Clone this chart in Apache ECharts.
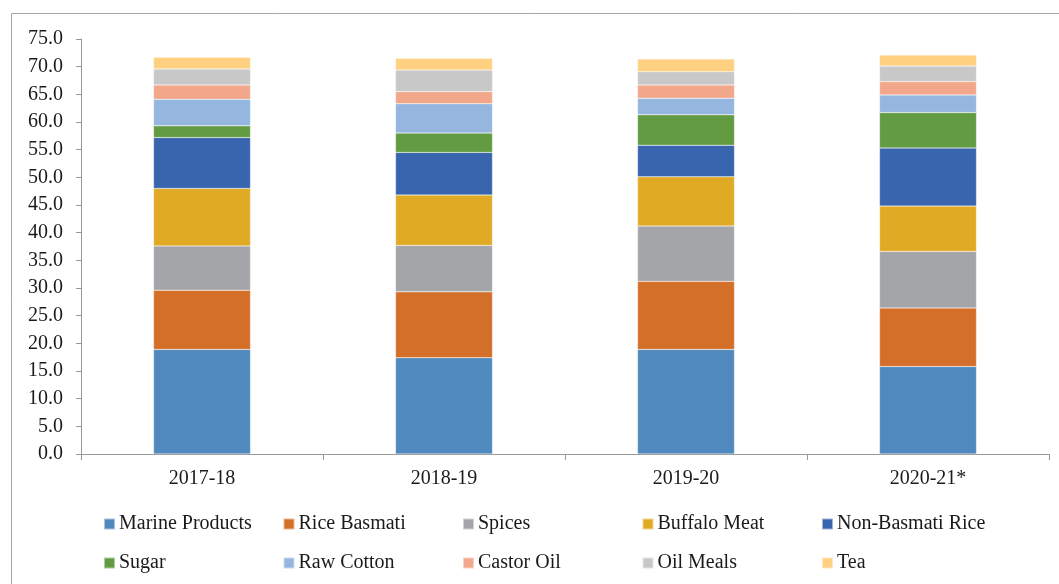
<!DOCTYPE html>
<html>
<head>
<meta charset="UTF-8">
<title></title>
<script src="https://cdn.jsdelivr.net/npm/echarts@6/dist/echarts.min.js"></script>
<style>
  html, body { margin: 0; padding: 0; background: #fff; }
</style>
</head>
<body>
<div id="chart" style="width:1059px;height:584px;"></div>
<script type="text/javascript">
// data
var years = ['2017-18', '2018-19', '2019-20', '2020-21*'];
var marineProducts = [18.9, 17.4, 18.9, 15.8];
var riceBasmati    = [10.7, 11.9, 12.3, 10.6];
var spices         = [8.0, 8.4, 10.0, 10.2];
var buffaloMeat    = [10.4, 9.1, 8.9, 8.2];
var nonBasmatiRice = [9.2, 7.7, 5.7, 10.5];
var sugar          = [2.1, 3.5, 5.5, 6.4];
var rawCotton      = [4.8, 5.3, 3.0, 3.2];
var castorOil      = [2.6, 2.2, 2.4, 2.4];
var oilMeals       = [2.9, 3.9, 2.4, 2.8];
var tea            = [2.1, 2.1, 2.3, 2.0];

var names = ['Marine Products', 'Rice Basmati', 'Spices', 'Buffalo Meat', 'Non-Basmati Rice',
             'Sugar', 'Raw Cotton', 'Castor Oil', 'Oil Meals', 'Tea'];
var values = [marineProducts, riceBasmati, spices, buffaloMeat, nonBasmatiRice,
              sugar, rawCotton, castorOil, oilMeals, tea];
var colors = ['#4F89BD', '#D46F29', '#A4A5A8', '#E0AA25', '#3865AE',
              '#629B42', '#95B6DE', '#F2A78A', '#C8C8C8', '#FED07F'];

var font = 'Liberation Serif';
var txt = '#1a1a1a';

var my_chart = echarts.init(document.getElementById('chart'));

var series = names.map(function(n, i) {
	return {
		name: n,
		type: 'bar',
		stack: 'total',
		barWidth: 97,
		data: values[i],
		itemStyle: { color: colors[i], borderColor: 'rgba(255,255,255,0.5)', borderWidth: 0.5 }
	};
});

// one legend per item so the columns line up like the original
var legendLeft = [103, 282.5, 462, 641.5, 821];
var legends = names.map(function(n, i) {
	return {
		data: [n],
		left: legendLeft[i % 5],
		top: i < 5 ? 514 : 553,
		padding: 0,
		icon: 'rect',
		itemWidth: 11,
		itemHeight: 11,
		textStyle: { fontFamily: font, fontSize: 20, color: txt, padding: [0, 0, 0, -1] }
	};
});

option = {
	backgroundColor: '#fff',
	color: colors,
	animation: false,
	grid: { left: 81, right: 10, top: 39, bottom: 130 },
	legend: legends,
	graphic: [{
		type: 'rect',
		shape: { x: 11.5, y: 13.5, width: 1060, height: 600 },
		style: { fill: 'none', stroke: '#a6a6a6', lineWidth: 1 },
		silent: true
	}],
	xAxis: {
		type: 'category',
		data: years,
		axisLine: { lineStyle: { color: '#999' } },
		axisTick: { show: true, length: 6, lineStyle: { color: '#999' } },
		axisLabel: { fontFamily: font, fontSize: 20, color: txt, margin: 15 }
	},
	yAxis: {
		type: 'value',
		min: 0,
		max: 75,
		interval: 5,
		axisLine: { show: true, lineStyle: { color: '#999' } },
		axisTick: { show: true, length: 5, lineStyle: { color: '#999' } },
		splitLine: { show: false },
		axisLabel: {
			fontFamily: font, fontSize: 20, color: txt, margin: 18,
			formatter: function(v) { return v.toFixed(1); }
		}
	},
	series: series
};
my_chart.setOption(option);
</script>
</body>
</html>
